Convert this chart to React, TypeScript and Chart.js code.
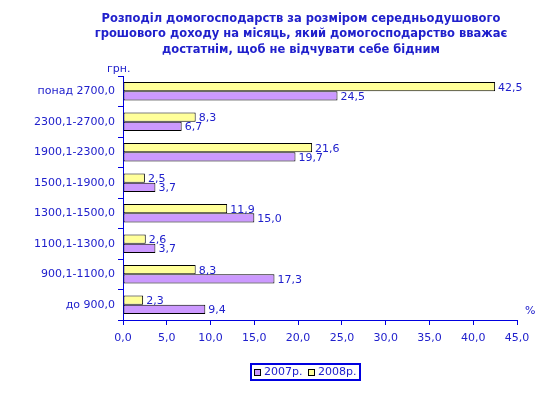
import React, { useEffect, useRef } from "react";
import { Chart, registerables } from "chart.js";

Chart.register(...registerables);

const categories = [
  "понад 2700,0",
  "2300,1-2700,0",
  "1900,1-2300,0",
  "1500,1-1900,0",
  "1300,1-1500,0",
  "1100,1-1300,0",
  "900,1-1100,0",
  "до 900,0",
];
const values2008 = [42.5, 8.3, 21.6, 2.5, 11.9, 2.6, 8.3, 2.3];
const values2007 = [24.5, 6.7, 19.7, 3.7, 15.0, 3.7, 17.3, 9.4];
const titleLines = [
  "Розподіл домогосподарств за розміром середньодушового",
  "грошового доходу на місяць, який домогосподарство вважає",
  "достатнім, щоб не відчувати себе бідним",
];
const legendLabels = ["2007р.", "2008р."];
const yUnit = "грн.";
const xUnit = "%";

const FONT = "'DejaVu Sans', Verdana, sans-serif";
const TEXT = "#2020CC";
const AXIS = "#0000E0";
const YELLOW = "#FFFF99";
const PURPLE = "#CC99FF";

const fmt = (v: number) => v.toFixed(1).replace(".", ",");

const extras = {
  id: "extras",
  afterDatasetsDraw(chart: any) {
    const ctx = chart.ctx;
    ctx.save();
    ctx.font = `11px ${FONT}`;
    ctx.fillStyle = TEXT;
    ctx.textAlign = "left";
    ctx.textBaseline = "middle";
    chart.data.datasets.forEach((ds: any, di: number) => {
      const meta = chart.getDatasetMeta(di);
      meta.data.forEach((el: any, i: number) => {
        ctx.fillText(fmt(ds.data[i]), el.x + 3, el.y + 1);
      });
    });
    ctx.restore();
  },
  afterDraw(chart: any) {
    const ctx = chart.ctx;
    ctx.save();
    // title
    ctx.font = `bold 11.5px ${FONT}`;
    ctx.fillStyle = TEXT;
    ctx.textAlign = "center";
    ctx.textBaseline = "middle";
    titleLines.forEach((t, i) => ctx.fillText(t, 301, 19 + i * 15.5));
    // units
    ctx.font = `11px ${FONT}`;
    ctx.textAlign = "left";
    ctx.fillText(yUnit, 107, 69);
    ctx.fillText(xUnit, 525, 311);
    // legend
    const lx = 250, ly = 363, lw = 111, lh = 18;
    ctx.strokeStyle = AXIS;
    ctx.lineWidth = 2;
    ctx.strokeRect(lx + 1, ly + 1, lw - 2, lh - 2);
    const items = [
      { c: PURPLE, t: legendLabels[0], x: 254 },
      { c: YELLOW, t: legendLabels[1], x: 308 },
    ];
    items.forEach((it) => {
      ctx.fillStyle = it.c;
      ctx.fillRect(it.x, ly + 6, 6, 6);
      ctx.strokeStyle = "#000";
      ctx.lineWidth = 1;
      ctx.strokeRect(it.x + 0.5, ly + 6.5, 6, 6);
      ctx.fillStyle = TEXT;
      ctx.fillText(it.t, it.x + 10, ly + lh / 2 + 0.5);
    });
    ctx.restore();
  },
};

export default function App() {
  const ref = useRef<HTMLCanvasElement>(null);
  useEffect(() => {
    document.body.style.margin = "0";
    const chart = new Chart(ref.current!, {
      type: "bar",
      data: {
        labels: categories,
        datasets: [
          {
            label: legendLabels[1],
            data: values2008,
            backgroundColor: YELLOW,
            borderColor: "#000",
            borderWidth: 1,
            borderSkipped: false,
          },
          {
            label: legendLabels[0],
            data: values2007,
            backgroundColor: PURPLE,
            borderColor: "#000",
            borderWidth: 1,
            borderSkipped: false,
          },
        ],
      },
      options: {
        indexAxis: "y",
        responsive: false,
        animation: false,
        layout: { padding: { top: 76, right: 31, left: 0, bottom: 0 } },
        plugins: {
          legend: { display: false },
          title: { display: false },
          tooltip: { enabled: false },
        },
        datasets: { bar: { categoryPercentage: 0.6, barPercentage: 1.0 } },
        scales: {
          x: {
            min: 0,
            max: 45,
            ticks: {
              stepSize: 5,
              color: TEXT,
              font: { family: FONT, size: 11 },
              padding: 7,
              callback: (v: any) => fmt(Number(v)),
            },
            grid: { drawOnChartArea: false, drawTicks: true, tickLength: 5, color: AXIS },
            border: { display: true, color: AXIS, width: 1 },
            afterFit: (s: any) => {
              s.height = 75;
            },
          },
          y: {
            ticks: {
              color: TEXT,
              font: { family: FONT, size: 11 },
              padding: 3,
            },
            grid: { drawOnChartArea: false, drawTicks: true, tickLength: 5, color: AXIS, offset: true },
            border: { display: true, color: AXIS, width: 1 },
            afterFit: (s: any) => {
              s.width = 123;
            },
          },
        },
      },
      plugins: [extras],
    });
    return () => chart.destroy();
  }, []);
  return <canvas ref={ref} width={548} height={395} style={{ display: "block" }} />;
}
